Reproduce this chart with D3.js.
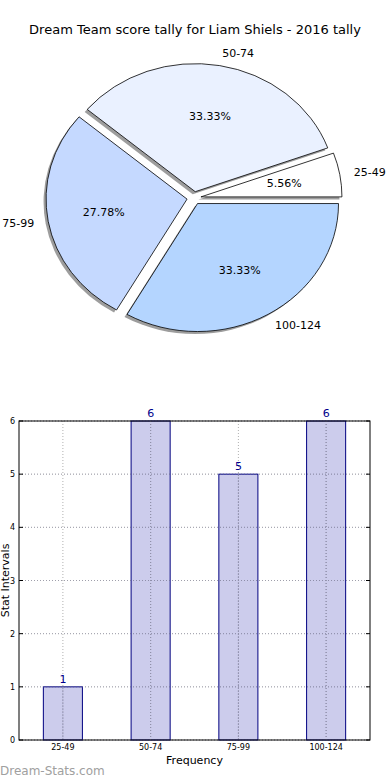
<!DOCTYPE html>
<html><head><meta charset="utf-8">
<script src="https://cdn.jsdelivr.net/npm/d3@7"></script>
<style>body{margin:0;background:#fff}svg{display:block;font-family:"DejaVu Sans",sans-serif}</style>
</head><body>
<script>
const title = "Dream Team score tally for Liam Shiels - 2016 tally";
const categories = ["25-49","50-74","75-99","100-124"];
const counts = [1,6,5,6];
const pieColors = ["#ffffff","#eaf1ff","#c5d9ff","#b4d5ff"];
const yTicks = [0,1,2,3,4,5,6];
const xLabel = "Frequency";
const yLabel = "Stat Intervals";
const watermark = "Dream-Stats.com";

const W=390,H=780;
const svg=d3.select("body").append("svg").attr("width",W).attr("height",H);

svg.append("text").attr("x",195).attr("y",34).attr("text-anchor","middle")
  .attr("font-size",13).attr("fill","#000").text(title);

// ---- Pie ----
const cx=194, cy=198, rx=141, ry=128, explode=0.05;
const total=d3.sum(counts);
const pie=d3.pie().sort(null).startAngle(Math.PI/2).endAngle(Math.PI/2-2*Math.PI);
const arcs=pie(counts);
const arc=d3.arc().innerRadius(0).outerRadius(1);
const g=svg.append("g");
function mid(d){return (d.startAngle+d.endAngle)/2;}
function off(d,k){const a=mid(d);return [Math.sin(a)*k*rx, -Math.cos(a)*k*ry];}
arcs.forEach((d,i)=>{
  const o=off(d,explode);
  g.append("path").attr("d",arc(d))
   .attr("transform",`translate(${cx+o[0]-2.5},${cy+o[1]+2.5}) scale(${rx},${ry})`)
   .attr("fill","#4d4d4d").attr("opacity",0.55);
});
arcs.forEach((d,i)=>{
  const o=off(d,explode);
  g.append("path").attr("d",arc(d))
   .attr("transform",`translate(${cx+o[0]},${cy+o[1]}) scale(${rx},${ry})`)
   .attr("fill",pieColors[i]).attr("stroke","#000").attr("stroke-width",0.8)
   .attr("vector-effect","non-scaling-stroke");
});
arcs.forEach((d,i)=>{
  const a=mid(d);
  const lp=off(d,explode+1.1);
  g.append("text").attr("x",cx+lp[0]).attr("y",cy+lp[1]).attr("dy","0.35em")
   .attr("text-anchor",Math.sin(a)>=0?"start":"end").attr("font-size",11)
   .text(categories[i]);
  const pp=off(d,explode+0.6);
  g.append("text").attr("x",cx+pp[0]).attr("y",cy+pp[1]).attr("dy","0.35em")
   .attr("text-anchor","middle").attr("font-size",11)
   .text((counts[i]/total*100).toFixed(2)+"%");
});

// ---- Bar ----
const L=19,R=370,T=421,B=740;
const x=d3.scaleBand().domain(categories).range([L,R]).paddingInner(0.555).paddingOuter(0.2775);
const y=d3.scaleLinear().domain([0,6]).range([B,T]);
const bg=svg.append("g");
bg.selectAll(".gy").data(yTicks).join("line")
  .attr("x1",L).attr("x2",R).attr("y1",d=>y(d)).attr("y2",d=>y(d))
  .attr("stroke","#b0b0b0").attr("stroke-dasharray","1,2").attr("stroke-width",1);
bg.selectAll(".gx").data(categories).join("line")
  .attr("x1",d=>x(d)+x.bandwidth()/2).attr("x2",d=>x(d)+x.bandwidth()/2).attr("y1",T).attr("y2",B)
  .attr("stroke","#b0b0b0").attr("stroke-dasharray","1,2").attr("stroke-width",1);
bg.selectAll("rect.bar").data(counts).join("rect")
  .attr("x",(d,i)=>x(categories[i])).attr("width",x.bandwidth())
  .attr("y",d=>y(d)).attr("height",d=>B-y(d))
  .attr("fill","#0000a0").attr("fill-opacity",0.2)
  .attr("stroke","#000080").attr("stroke-width",1);
bg.selectAll(".gx2").data(categories).join("line")
  .attr("x1",d=>x(d)+x.bandwidth()/2).attr("x2",d=>x(d)+x.bandwidth()/2)
  .attr("y1",(d,i)=>y(counts[i])).attr("y2",B)
  .attr("stroke","#9090a8").attr("stroke-dasharray","1,2").attr("stroke-width",1);
bg.selectAll(".gy2").data(yTicks).join("line")
  .attr("x1",L).attr("x2",R).attr("y1",d=>y(d)).attr("y2",d=>y(d))
  .attr("stroke","#9090a8").attr("stroke-dasharray","1,2").attr("stroke-width",1).attr("opacity",0.5);
bg.selectAll("text.val").data(counts).join("text")
  .attr("x",(d,i)=>x(categories[i])+x.bandwidth()/2).attr("y",d=>y(d)-4)
  .attr("text-anchor","middle").attr("font-size",11).attr("fill","#00008b").text(d=>d);
bg.append("rect").attr("x",L).attr("y",T).attr("width",R-L).attr("height",B-T)
  .attr("fill","none").attr("stroke","#000").attr("stroke-width",1);
const ya=d3.axisLeft(y).tickValues(yTicks).tickFormat(d3.format("d")).tickSize(0).tickPadding(4);
const yag=bg.append("g").attr("transform",`translate(${L},0)`).call(ya);
yag.select(".domain").remove();
yag.selectAll("text").attr("font-size",8).attr("font-family","DejaVu Sans");
const xa=d3.axisBottom(x).tickSize(0).tickPadding(4);
const xag=bg.append("g").attr("transform",`translate(0,${B})`).call(xa);
xag.select(".domain").remove();
xag.selectAll("text").attr("font-size",8).attr("font-family","DejaVu Sans");
bg.selectAll(".ty").data(yTicks).join("line")
  .attr("x1",L).attr("x2",L+4).attr("y1",d=>y(d)).attr("y2",d=>y(d)).attr("stroke","#000");
bg.selectAll(".ty2").data(yTicks).join("line")
  .attr("x1",R-4).attr("x2",R).attr("y1",d=>y(d)).attr("y2",d=>y(d)).attr("stroke","#000");
bg.append("text").attr("x",(L+R)/2).attr("y",764).attr("text-anchor","middle")
  .attr("font-size",11).text(xLabel);
bg.append("text").attr("transform",`translate(9,${(T+B)/2}) rotate(-90)`)
  .attr("text-anchor","middle").attr("font-size",11).text(yLabel);
svg.append("text").attr("x",0).attr("y",775).attr("font-size",12)
  .attr("fill","#a0a0a0").text(watermark);
</script>
</body></html>
